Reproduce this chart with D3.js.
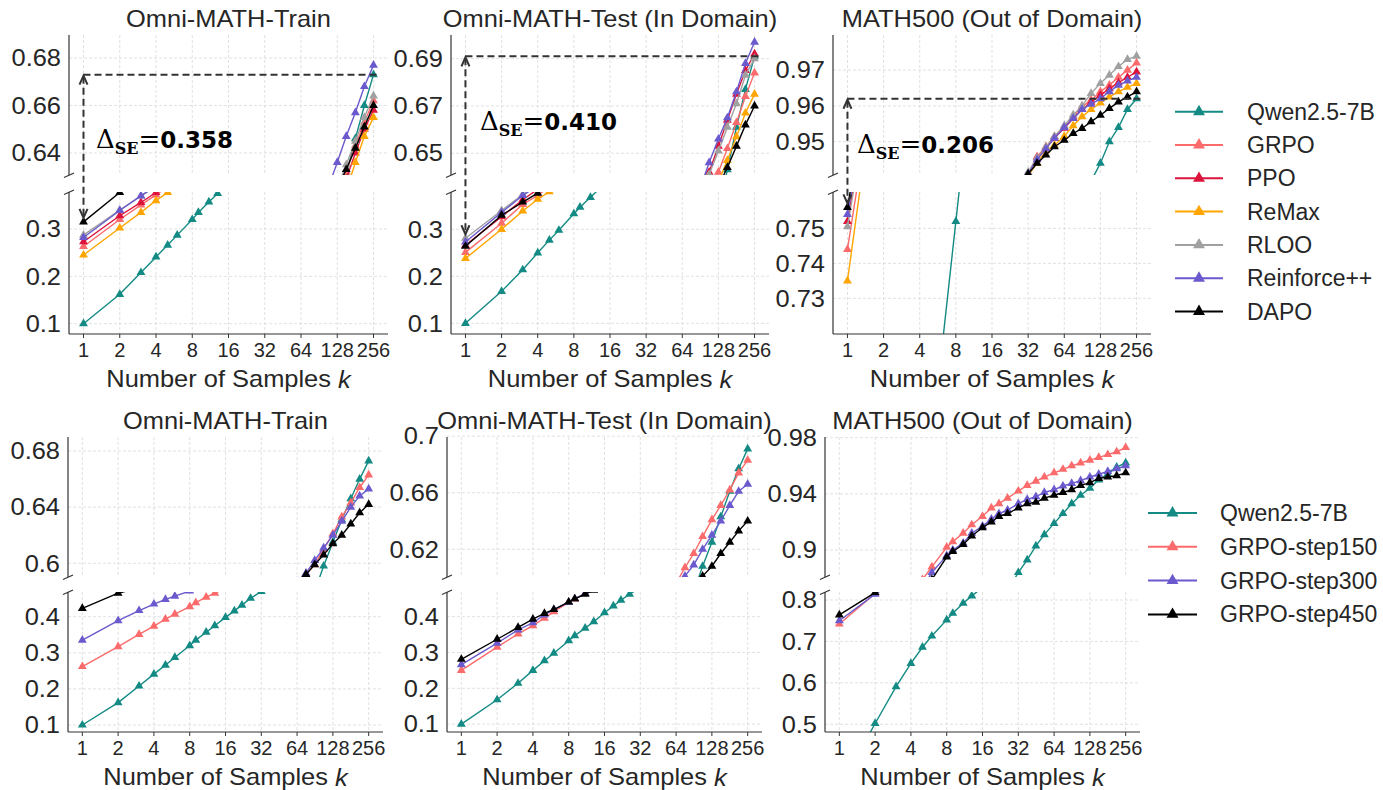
<!DOCTYPE html>
<html>
<head>
<meta charset="utf-8">
<script src="https://cdn.jsdelivr.net/npm/d3@7"></script>
<style>
  body { margin: 0; background: #fff; }
  svg { display: block; }
</style>
</head>
<body>
<svg width="1383" height="790"></svg>
<script>
// sample counts (k) used for pass@k
const ks = [1, 2, 3, 4, 5, 6, 8, 9, 11, 13, 16, 19, 22, 26, 32, 38, 45, 53, 64, 76, 90, 107, 128, 152, 181, 215, 256];
const xTickValues = [1, 2, 4, 8, 16, 32, 64, 128, 256];

const methodsTop = ['Qwen2.5-7B', 'GRPO', 'PPO', 'ReMax', 'RLOO', 'Reinforce++', 'DAPO'];
const methodsBottom = ['Qwen2.5-7B', 'GRPO-step150', 'GRPO-step300', 'GRPO-step450'];
const titles = ['Omni-MATH-Train', 'Omni-MATH-Test (In Domain)', 'MATH500 (Out of Domain)'];
const deltaLabels = ['0.358', '0.410', '0.206'];

// base model
const qwenTrain = [0.100,0.162,0.208,0.241,0.266,0.287,0.320,0.335,0.357,0.375,0.398,0.416,0.432,0.451,0.470,0.488,0.506,0.524,0.543,0.561,0.580,0.598,0.615,0.631,0.646,0.660,0.673];
const qwenTest  = [0.100,0.168,0.214,0.250,0.277,0.298,0.333,0.347,0.368,0.386,0.411,0.430,0.446,0.463,0.481,0.499,0.517,0.535,0.554,0.572,0.590,0.608,0.625,0.643,0.661,0.677,0.691];
const qwenMath  = [0.345,0.502,0.591,0.647,0.686,0.713,0.752,0.768,0.792,0.810,0.830,0.846,0.859,0.871,0.884,0.893,0.903,0.911,0.919,0.926,0.933,0.939,0.944,0.950,0.954,0.959,0.962];

// RL methods, Omni-MATH-Train
const grpoTrain      = [0.263,0.320,0.351,0.372,0.389,0.402,0.423,0.432,0.447,0.460,0.476,0.489,0.500,0.513,0.528,0.541,0.553,0.565,0.578,0.590,0.601,0.612,0.622,0.632,0.643,0.653,0.662];
const ppoTrain       = [0.273,0.328,0.356,0.377,0.393,0.405,0.425,0.433,0.447,0.459,0.474,0.486,0.497,0.509,0.523,0.536,0.548,0.560,0.573,0.586,0.598,0.609,0.619,0.629,0.640,0.650,0.658];
const remaxTrain     = [0.245,0.302,0.335,0.360,0.377,0.391,0.413,0.422,0.437,0.450,0.466,0.479,0.490,0.503,0.518,0.531,0.543,0.555,0.568,0.580,0.591,0.601,0.612,0.624,0.636,0.647,0.655];
const rlooTrain      = [0.287,0.340,0.370,0.390,0.405,0.417,0.436,0.444,0.458,0.470,0.485,0.497,0.508,0.520,0.534,0.547,0.559,0.571,0.584,0.596,0.606,0.616,0.625,0.635,0.645,0.655,0.664];
const reinforceTrain = [0.282,0.339,0.370,0.391,0.407,0.420,0.440,0.449,0.464,0.477,0.493,0.506,0.518,0.531,0.546,0.559,0.572,0.585,0.597,0.608,0.617,0.625,0.636,0.647,0.657,0.668,0.677];
const dapoTrain      = [0.315,0.377,0.407,0.426,0.440,0.451,0.468,0.475,0.488,0.499,0.515,0.524,0.532,0.541,0.551,0.560,0.569,0.578,0.587,0.596,0.605,0.615,0.625,0.633,0.642,0.651,0.660];

// RL methods, Omni-MATH-Test
const grpoTest      = [0.251,0.313,0.353,0.372,0.391,0.404,0.425,0.434,0.449,0.462,0.478,0.491,0.503,0.516,0.531,0.545,0.559,0.573,0.588,0.604,0.619,0.632,0.642,0.652,0.663,0.674,0.684];
const ppoTest       = [0.266,0.327,0.363,0.385,0.401,0.414,0.435,0.444,0.460,0.473,0.490,0.504,0.516,0.530,0.546,0.560,0.574,0.588,0.603,0.617,0.630,0.642,0.653,0.664,0.675,0.685,0.692];
const remaxTest     = [0.238,0.300,0.339,0.364,0.380,0.393,0.414,0.423,0.438,0.451,0.467,0.480,0.492,0.505,0.520,0.534,0.548,0.561,0.575,0.591,0.607,0.624,0.638,0.647,0.657,0.667,0.675];
const rlooTest      = [0.281,0.340,0.374,0.395,0.410,0.422,0.442,0.450,0.465,0.477,0.493,0.506,0.518,0.531,0.546,0.559,0.573,0.586,0.600,0.614,0.628,0.641,0.651,0.661,0.671,0.683,0.690];
const reinforceTest = [0.273,0.336,0.372,0.393,0.409,0.422,0.443,0.452,0.467,0.480,0.497,0.511,0.523,0.537,0.553,0.567,0.581,0.595,0.609,0.622,0.635,0.646,0.656,0.665,0.676,0.688,0.697];
const dapoTest      = [0.264,0.330,0.358,0.377,0.395,0.410,0.431,0.440,0.455,0.467,0.483,0.496,0.507,0.519,0.533,0.546,0.559,0.572,0.586,0.600,0.614,0.627,0.636,0.644,0.653,0.662,0.670];

// RL methods, MATH500
const grpoMath      = [0.744,0.810,0.842,0.860,0.873,0.883,0.896,0.901,0.909,0.915,0.921,0.926,0.930,0.936,0.9411,0.9458,0.9486,0.9514,0.9542,0.957,0.9598,0.9616,0.964,0.9658,0.968,0.970,0.972];
const ppoMath       = [0.752,0.812,0.843,0.861,0.873,0.883,0.896,0.901,0.909,0.915,0.921,0.926,0.930,0.936,0.941,0.9455,0.9483,0.951,0.9538,0.9565,0.959,0.961,0.963,0.9648,0.9665,0.968,0.9695];
const remaxMath     = [0.735,0.810,0.841,0.859,0.872,0.882,0.895,0.900,0.908,0.914,0.920,0.925,0.929,0.935,0.9405,0.944,0.9475,0.949,0.9515,0.9545,0.957,0.959,0.9608,0.9625,0.964,0.9652,0.9663];
const rlooMath      = [0.7505,0.811,0.843,0.861,0.873,0.883,0.896,0.901,0.909,0.915,0.921,0.926,0.930,0.936,0.9415,0.9455,0.9485,0.9515,0.9545,0.9575,0.960,0.9635,0.9663,0.9686,0.971,0.973,0.9739];
const reinforceMath = [0.754,0.812,0.843,0.860,0.872,0.882,0.895,0.900,0.908,0.914,0.920,0.925,0.929,0.935,0.941,0.945,0.948,0.951,0.954,0.9565,0.959,0.9605,0.962,0.964,0.9658,0.967,0.968];
const dapoMath      = [0.756,0.815,0.843,0.860,0.872,0.880,0.893,0.898,0.905,0.911,0.918,0.923,0.928,0.935,0.941,0.944,0.9463,0.9486,0.9504,0.9523,0.9537,0.9556,0.9574,0.9593,0.9611,0.9625,0.964];

// GRPO checkpoints
const step150Train = [0.262,0.317,0.351,0.374,0.393,0.407,0.428,0.439,0.454,0.465,0.478,0.491,0.503,0.516,0.529,0.541,0.554,0.567,0.580,0.592,0.599,0.610,0.621,0.633,0.643,0.654,0.663];
const step300Train = [0.335,0.389,0.417,0.435,0.448,0.457,0.471,0.478,0.490,0.500,0.512,0.522,0.531,0.541,0.552,0.562,0.572,0.580,0.587,0.593,0.602,0.611,0.620,0.630,0.640,0.648,0.653];
const step450Train = [0.423,0.465,0.480,0.490,0.498,0.505,0.515,0.520,0.528,0.535,0.542,0.549,0.555,0.561,0.567,0.572,0.577,0.581,0.586,0.592,0.599,0.606,0.614,0.620,0.628,0.636,0.642];
const step150Test  = [0.250,0.315,0.352,0.375,0.396,0.414,0.440,0.449,0.465,0.478,0.494,0.508,0.520,0.533,0.548,0.561,0.574,0.586,0.596,0.607,0.617,0.629,0.641,0.651,0.662,0.674,0.683];
const step300Test  = [0.266,0.326,0.363,0.383,0.405,0.420,0.440,0.450,0.465,0.477,0.492,0.505,0.517,0.529,0.543,0.556,0.568,0.580,0.591,0.601,0.609,0.620,0.630,0.640,0.651,0.661,0.666];
const step450Test  = [0.281,0.337,0.370,0.393,0.409,0.420,0.441,0.450,0.463,0.474,0.487,0.499,0.510,0.521,0.533,0.545,0.556,0.567,0.577,0.586,0.594,0.601,0.608,0.617,0.625,0.633,0.640];
const step150Math  = [0.742,0.816,0.850,0.866,0.879,0.888,0.902,0.906,0.912,0.918,0.924,0.930,0.933,0.937,0.942,0.946,0.949,0.952,0.955,0.9575,0.960,0.962,0.964,0.966,0.968,0.970,0.973];
const step300Math  = [0.750,0.814,0.845,0.861,0.873,0.884,0.896,0.900,0.905,0.912,0.917,0.922,0.926,0.9285,0.933,0.936,0.938,0.941,0.943,0.9456,0.9475,0.9494,0.952,0.954,0.956,0.958,0.960];
const step450Math  = [0.764,0.818,0.845,0.860,0.871,0.879,0.895,0.899,0.904,0.910,0.916,0.920,0.924,0.926,0.930,0.933,0.934,0.937,0.939,0.941,0.943,0.946,0.948,0.951,0.952,0.953,0.955];

// y ticks of each broken axis (upper part, lower part)
const ticksTop    = [[0.64, 0.66, 0.68], [0.65, 0.67, 0.69], [0.95, 0.96, 0.97]];
const ticksTopLow = [[0.1, 0.2, 0.3], [0.1, 0.2, 0.3], [0.73, 0.74, 0.75]];
const ticksBot    = [[0.6, 0.64, 0.68], [0.62, 0.66, 0.7], [0.9, 0.94, 0.98]];
const ticksBotLow = [[0.1, 0.2, 0.3, 0.4], [0.1, 0.2, 0.3, 0.4], [0.5, 0.6, 0.7, 0.8]];

const colors = {
  'Qwen2.5-7B': '#138a84', 'GRPO': '#fb6b6b', 'PPO': '#dc143c', 'ReMax': '#ffa500',
  'RLOO': '#a0a0a0', 'Reinforce++': '#6a5acd', 'DAPO': '#000000',
  'GRPO-step150': '#fb6b6b', 'GRPO-step300': '#6a5acd', 'GRPO-step450': '#000000'
};

const svg = d3.select('svg');
const ink = '#262626';
const sans = '"Liberation Sans", Arial, Helvetica, sans-serif';
const tri = d3.symbol(d3.symbolTriangle).size(34)();
const triBig = d3.symbol(d3.symbolTriangle).size(62)();
let clipCount = 0;

function wideText(g, x, y, str, anchor, size) {
  return g.append('text')
    .attr('transform', `translate(${x},${y}) scale(1.06,1)`)
    .attr('text-anchor', anchor)
    .attr('dominant-baseline', 'central')
    .attr('font-family', sans)
    .attr('font-size', size)
    .attr('fill', ink)
    .text(str);
}

function drawPanel(p) {
  const x = d3.scaleLog().base(2)
    .domain([Math.pow(2, -0.4), Math.pow(2, 8.4)])
    .range([p.x0, p.x1]);
  const parts = [
    { dom: p.topDom, y0: p.top[0], y1: p.top[1], ticks: p.topTicks },
    { dom: p.lowDom, y0: p.low[0], y1: p.low[1], ticks: p.lowTicks }
  ];
  parts.forEach((part, j) => {
    const y = d3.scaleLinear().domain(part.dom).range([part.y1, part.y0]);
    part.y = y;
    const g = svg.append('g');

    // grid
    g.selectAll('.gx').data(xTickValues).enter().append('line')
      .attr('x1', d => x(d)).attr('x2', d => x(d))
      .attr('y1', part.y0).attr('y2', part.y1)
      .attr('stroke', '#d9d9d9').attr('stroke-width', 0.8).attr('stroke-dasharray', '3,2');
    g.selectAll('.gy').data(part.ticks).enter().append('line')
      .attr('x1', p.x0).attr('x2', p.x1)
      .attr('y1', d => y(d)).attr('y2', d => y(d))
      .attr('stroke', '#d9d9d9').attr('stroke-width', 0.8).attr('stroke-dasharray', '3,2');

    const id = 'clip' + (clipCount++);
    svg.append('clipPath').attr('id', id).append('rect')
      .attr('x', p.x0).attr('y', part.y0)
      .attr('width', p.x1 - p.x0).attr('height', part.y1 - part.y0);
    const plot = g.append('g').attr('clip-path', `url(#${id})`);

    p.series.forEach(s => {
      const pts = ks.map((k, i) => [k, s.values[i]]);
      const sg = plot.append('g');
      sg.append('path').datum(pts)
        .attr('d', d3.line().x(d => x(d[0])).y(d => y(d[1])))
        .attr('fill', 'none').attr('stroke', colors[s.name]).attr('stroke-width', 1.4);
      sg.selectAll('path.m').data(pts).enter().append('path')
        .attr('class', 'm').attr('d', tri)
        .attr('transform', d => `translate(${x(d[0])},${y(d[1])})`)
        .attr('fill', colors[s.name]);
    });

    // y tick labels
    part.ticks.forEach(t => wideText(svg, p.x0 - 8, y(t), String(t), 'end', 24));

    // left spine + break mark
    svg.append('line').attr('x1', p.x0).attr('x2', p.x0)
      .attr('y1', part.y0).attr('y2', part.y1)
      .attr('stroke', '#333').attr('stroke-width', 1.2);
    const yb = j === 0 ? part.y1 : part.y0;
    svg.append('line').attr('x1', p.x0 - 5).attr('y1', yb + 2.5)
      .attr('x2', p.x0 + 5).attr('y2', yb - 2)
      .attr('stroke', '#333').attr('stroke-width', 1.2);
  });

  // bottom spine, ticks and x labels
  const yAxis = p.low[1];
  svg.append('line').attr('x1', p.x0).attr('x2', p.x1)
    .attr('y1', yAxis).attr('y2', yAxis)
    .attr('stroke', '#333').attr('stroke-width', 1.2);
  xTickValues.forEach(k => {
    svg.append('line').attr('x1', x(k)).attr('x2', x(k))
      .attr('y1', yAxis).attr('y2', yAxis + 4)
      .attr('stroke', '#333').attr('stroke-width', 1);
    svg.append('text').attr('x', x(k)).attr('y', yAxis + 16)
      .attr('text-anchor', 'middle').attr('dominant-baseline', 'central')
      .attr('font-family', sans).attr('font-size', 20).attr('fill', ink)
      .text(String(k));
  });

  const cx = (p.x0 + p.x1) / 2;
  const xl = wideText(svg, cx, yAxis + 45, 'Number of Samples ', 'middle', 24);
  xl.append('tspan').attr('font-style', 'italic').text('k');
  wideText(svg, cx, p.top[0] - 16, p.title, 'middle', 24);

  // Δ annotation (first row)
  if (p.delta) {
    const yT = parts[0].y, yL = parts[1].y;
    const best = p.series[0].values[ks.length - 1];
    const start = d3.max(p.series.slice(1), s => s.values[0]);
    const x1 = x(1), yTop = yT(best), yBot = yL(start) - 4;
    const a = svg.append('g').attr('stroke', '#333').attr('fill', 'none');
    a.append('line').attr('x1', x1).attr('x2', x(256) + 6).attr('y1', yTop).attr('y2', yTop)
      .attr('stroke-width', 2).attr('stroke-dasharray', '7,4');
    a.append('line').attr('x1', x1).attr('x2', x1).attr('y1', yTop + 2).attr('y2', yBot - 2)
      .attr('stroke-width', 2).attr('stroke-dasharray', '7,4');
    a.append('path').attr('d', `M${x1 - 4},${yTop + 10}L${x1},${yTop + 1}L${x1 + 4},${yTop + 10}`)
      .attr('stroke-width', 2);
    a.append('path').attr('d', `M${x1 - 4},${yBot - 9}L${x1},${yBot}L${x1 + 4},${yBot - 9}`)
      .attr('stroke-width', 2);

    const t = svg.append('text').attr('x', p.delta.tx).attr('y', p.delta.ty)
      .attr('font-size', 26).attr('fill', '#000');
    t.append('tspan').attr('font-family', '"DejaVu Serif", serif').text('Δ');
    t.append('tspan').attr('font-family', '"DejaVu Serif", serif').attr('font-weight', 'bold')
      .attr('font-size', 16).attr('dy', 6).text('SE');
    t.append('tspan').attr('font-family', '"DejaVu Serif", serif').attr('dy', -6).text('=');
    t.append('tspan').attr('font-family', '"DejaVu Sans", sans-serif').attr('font-weight', 'bold')
      .attr('font-size', 23).text(p.delta.label);
  }
}

function seriesOf(names, arrays) {
  return names.map((n, i) => ({ name: n, values: arrays[i] }));
}

const panels = [
  { title: titles[0], x0: 69, x1: 388, top: [35, 175], low: [192, 334],
    topDom: [0.6307, 0.6897], lowDom: [0.0782, 0.3781], topTicks: ticksTop[0], lowTicks: ticksTopLow[0],
    series: seriesOf(methodsTop, [qwenTrain, grpoTrain, ppoTrain, remaxTrain, rlooTrain, reinforceTrain, dapoTrain]),
    delta: { label: deltaLabels[0], tx: 96, ty: 148 } },
  { title: titles[1], x0: 451, x1: 769, top: [35, 175], low: [192, 334],
    topDom: [0.6408, 0.7000], lowDom: [0.0773, 0.3794], topTicks: ticksTop[1], lowTicks: ticksTopLow[1],
    series: seriesOf(methodsTop, [qwenTest, grpoTest, ppoTest, remaxTest, rlooTest, reinforceTest, dapoTest]),
    delta: { label: deltaLabels[1], tx: 480, ty: 130 } },
  { title: titles[2], x0: 833, x1: 1151, top: [35, 175], low: [192, 334],
    topDom: [0.9407, 0.9798], lowDom: [0.7198, 0.7604], topTicks: ticksTop[2], lowTicks: ticksTopLow[2],
    series: seriesOf(methodsTop, [qwenMath, grpoMath, ppoMath, remaxMath, rlooMath, reinforceMath, dapoMath]),
    delta: { label: deltaLabels[2], tx: 857, ty: 153 } },
  { title: titles[0], x0: 68, x1: 383, top: [437, 577], low: [592, 732],
    topDom: [0.5902, 0.690], lowDom: [0.0806, 0.4684], topTicks: ticksBot[0], lowTicks: ticksBotLow[0],
    series: seriesOf(methodsBottom, [qwenTrain, step150Train, step300Train, step450Train]) },
  { title: titles[1], x0: 447, x1: 762, top: [437, 577], low: [592, 732],
    topDom: [0.6004, 0.6994], lowDom: [0.0780, 0.4689], topTicks: ticksBot[1], lowTicks: ticksBotLow[1],
    series: seriesOf(methodsBottom, [qwenTest, step150Test, step300Test, step450Test]) },
  { title: titles[2], x0: 825, x1: 1140, top: [437, 577], low: [592, 732],
    topDom: [0.8808, 0.9805], lowDom: [0.4814, 0.8193], topTicks: ticksBot[2], lowTicks: ticksBotLow[2],
    series: seriesOf(methodsBottom, [qwenMath, step150Math, step300Math, step450Math]) }
];

panels.forEach(drawPanel);

// legends
function legend(names, lx0, lx1, tx, y0, dy) {
  names.forEach((n, i) => {
    const y = y0 + i * dy;
    svg.append('line').attr('x1', lx0).attr('x2', lx1).attr('y1', y).attr('y2', y)
      .attr('stroke', colors[n]).attr('stroke-width', 2);
    svg.append('path').attr('d', triBig)
      .attr('transform', `translate(${(lx0 + lx1) / 2},${y})`).attr('fill', colors[n]);
    svg.append('text').attr('x', tx).attr('y', y)
      .attr('dominant-baseline', 'central').attr('font-family', sans)
      .attr('font-size', 23).attr('fill', ink).text(n);
  });
}
legend(methodsTop, 1175, 1223, 1247, 111.7, 33.3);
legend(methodsBottom, 1148, 1197, 1220, 513, 33.8);
</script>
</body>
</html>
